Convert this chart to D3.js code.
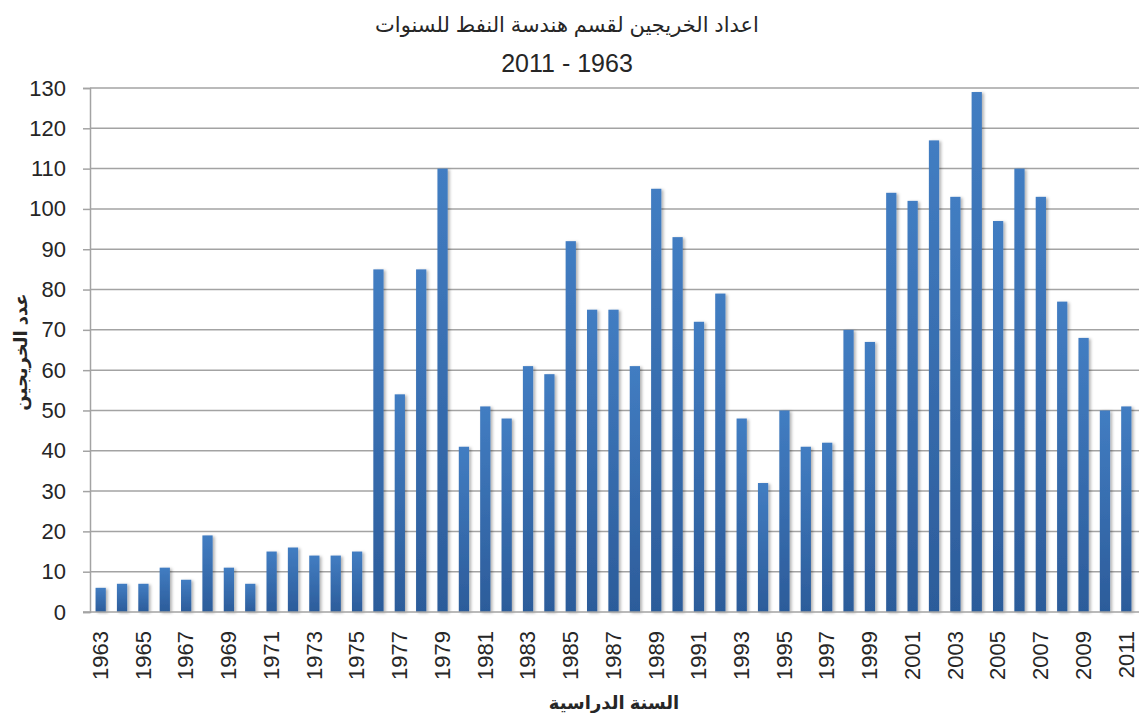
<!DOCTYPE html>
<html>
<head>
<meta charset="utf-8">
<script src="https://cdn.jsdelivr.net/npm/d3@7"></script>
<style>
  body { margin: 0; background: #fff; }
  text { font-family: "Liberation Sans", Arial, "DejaVu Sans", sans-serif; fill: #262626; }
</style>
</head>
<body>
<div id="chart"></div>
<script>
const years = d3.range(1963, 2012);
const graduates = [6, 7, 7, 11, 8, 19, 11, 7, 15, 16, 14, 14, 15, 85, 54, 85, 110, 41, 51, 48,
                   61, 59, 92, 75, 75, 61, 105, 93, 72, 79, 48, 32, 50, 41, 42, 70, 67, 104, 102, 117,
                   103, 129, 97, 110, 103, 77, 68, 50, 51];
const yTicks = d3.range(0, 131, 10);
const titleLines = ["اعداد الخريجين لقسم هندسة النفط للسنوات", "1963 - 2011"];
const xTitle = "السنة الدراسية";
const yTitle = "عدد الخريجين";

const width = 1139, height = 720;
const margin = {top: 88, right: 2, bottom: 108, left: 90};

const svg = d3.select("#chart").append("svg")
    .attr("width", width)
    .attr("height", height);

const defs = svg.append("defs");
const grad = defs.append("linearGradient")
    .attr("id", "barGrad")
    .attr("x1", 0).attr("y1", 0).attr("x2", 0).attr("y2", 1);
grad.append("stop").attr("offset", "0%").attr("stop-color", "#427dc2");
grad.append("stop").attr("offset", "100%").attr("stop-color", "#2c5c9a");

const shadow = defs.append("filter").attr("id", "shadow")
    .attr("x", "-50%").attr("y", "-10%").attr("width", "200%").attr("height", "120%");
shadow.append("feDropShadow")
    .attr("dx", 2).attr("dy", 1).attr("stdDeviation", 1.5)
    .attr("flood-color", "#000").attr("flood-opacity", 0.3);

const x = d3.scaleBand()
    .domain(years)
    .range([margin.left, width - margin.right])
    .paddingInner(0.52)
    .paddingOuter(0.26);

const y = d3.scaleLinear()
    .domain([0, 130])
    .range([height - margin.bottom, margin.top]);

// gridlines
svg.append("g")
    .selectAll("line")
    .data(yTicks.filter(d => d > 0))
    .join("line")
    .attr("x1", margin.left)
    .attr("x2", width)
    .attr("y1", d => y(d))
    .attr("y2", d => y(d))
    .attr("stroke", "#a3a3a3")
    .attr("stroke-width", 1.5);

// y axis
const yAxis = svg.append("g")
    .attr("transform", `translate(${margin.left},0)`)
    .call(d3.axisLeft(y).tickValues(yTicks).tickSize(7).tickPadding(17));
yAxis.select(".domain").attr("stroke", "#a3a3a3").attr("stroke-width", 1.5);
yAxis.selectAll(".tick line").attr("stroke", "#a3a3a3").attr("stroke-width", 1.5);
yAxis.selectAll("text")
    .style("font-size", "22px")
    .attr("fill", "#262626")
    .attr("font-family", "Liberation Sans, Arial, sans-serif");

// bars
svg.append("g")
    .selectAll("rect")
    .data(years.map((yr, i) => ({yr, v: graduates[i]})))
    .join("rect")
    .attr("x", d => x(d.yr))
    .attr("width", x.bandwidth())
    .attr("y", d => y(d.v))
    .attr("height", d => y(0) - y(d.v))
    .attr("fill", "url(#barGrad)")
    .attr("filter", "url(#shadow)");

// x axis
const xAxis = svg.append("g")
    .attr("transform", `translate(0,${y(0)})`)
    .call(d3.axisBottom(x).tickValues(years.filter(d => d % 2 === 1)).tickSize(0).tickPadding(0));
xAxis.select(".domain").attr("stroke", "#a3a3a3").attr("stroke-width", 1.5)
    .attr("d", `M${margin.left - 7},0H${width}`);
xAxis.selectAll("text")
    .style("font-size", "22px")
    .attr("fill", "#262626")
    .attr("font-family", "Liberation Sans, Arial, sans-serif")
    .attr("text-anchor", "end")
    .attr("dy", "0.33em")
    .attr("transform", "translate(0,19) rotate(-90)")
    .attr("x", 0).attr("y", 0);

// titles
svg.append("g")
    .selectAll("text")
    .data(titleLines)
    .join("text")
    .attr("x", 567)
    .attr("y", (d, i) => i === 0 ? 32 : 72)
    .attr("text-anchor", "middle")
    .attr("direction", "rtl")
    .style("font-size", (d, i) => i === 0 ? "21px" : "25px")
    .text(d => d);

svg.append("text")
    .attr("x", 614)
    .attr("y", 709)
    .attr("text-anchor", "middle")
    .attr("direction", "rtl")
    .style("font-size", "18px")
    .style("font-weight", "bold")
    .text(xTitle);

svg.append("text")
    .attr("transform", "translate(27,352) rotate(-90)")
    .attr("text-anchor", "middle")
    .attr("direction", "rtl")
    .style("font-size", "18px")
    .style("font-weight", "bold")
    .text(yTitle);
</script>
</body>
</html>
